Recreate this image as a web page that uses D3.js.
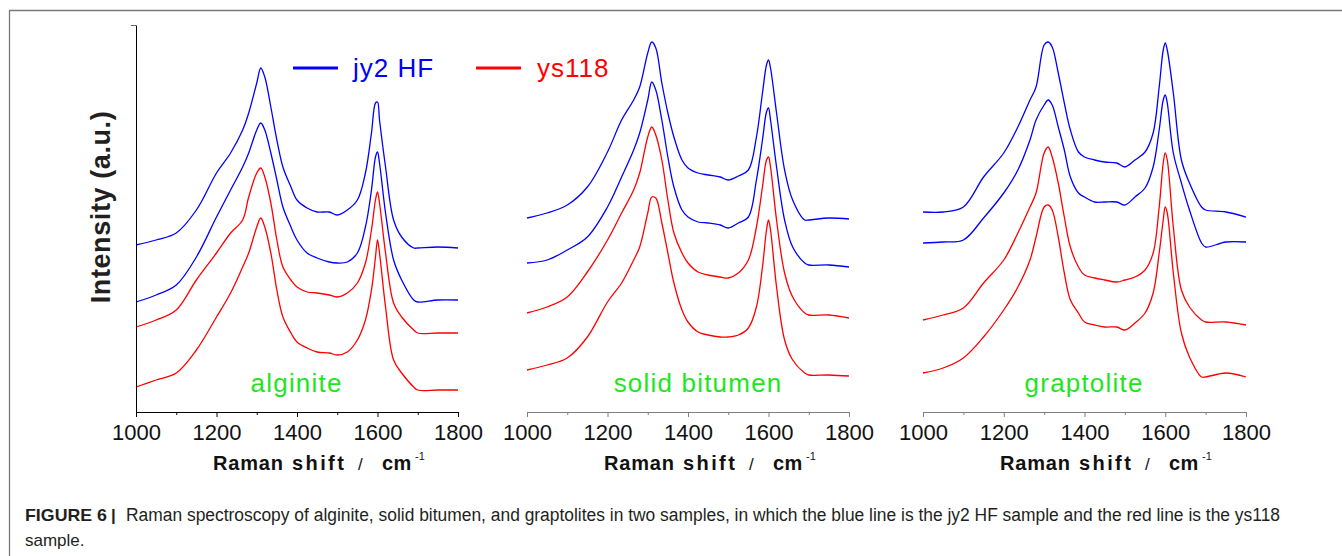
<!DOCTYPE html>
<html>
<head>
<meta charset="utf-8">
<script src="https://cdn.jsdelivr.net/npm/d3@7"></script>
<style>
  html, body { margin: 0; padding: 0; background: #fff; }
  svg { display: block; font-family: "Liberation Sans", Arial, sans-serif; }
</style>
</head>
<body>
<div id="chart"></div>
<script>
// Raman shift grid (cm-1) the spectra were read at
var ramanShift = [1000, 1050, 1100, 1150, 1200, 1235, 1265, 1280, 1300, 1310,
  1320, 1335, 1350, 1365, 1385, 1400, 1425, 1450, 1480, 1500,
  1525, 1550, 1570, 1585, 1595, 1600, 1605, 1620, 1640, 1660,
  1690, 1700, 1750, 1800];

// intensities (a.u., stacked offsets included), two spectra per sample
var alginiteJy2A = [167,172,179,202,239,259,282,299,329,344,335,305,272,245,225,212,204,200,200,197,202,212,239,279,309,310,292,245,192,175,164,164,165,164];
var alginiteJy2B = [110,117,127,155,195,222,245,259,282,289,282,259,232,205,185,172,159,154,150,149,150,159,185,222,255,260,249,199,152,132,112,110,112,112];
var alginiteYs118A = [85,92,102,132,159,179,192,215,239,244,235,209,172,145,132,125,120,119,117,115,119,129,149,182,212,220,209,159,109,95,82,79,79,79];
var alginiteYs118B = [25,32,39,62,95,119,145,159,185,194,185,159,122,95,79,70,64,60,59,57,60,72,92,122,155,172,159,105,52,39,25,22,22,22];

var bitumenJy2A = [194,199,207,225,260,292,312,325,359,370,364,329,299,275,252,244,239,237,235,232,236,242,275,319,347,352,344,299,242,212,192,192,194,193];
var bitumenJy2B = [149,152,162,175,205,235,262,279,312,330,322,292,255,225,202,195,190,189,187,184,189,195,232,272,300,304,292,245,192,165,149,147,147,145];
var bitumenYs118A = [99,105,115,140,172,199,222,239,275,285,277,252,212,179,159,149,140,137,135,134,139,152,185,225,252,255,245,192,139,115,99,97,97,94];
var bitumenYs118B = [42,47,54,75,110,129,152,165,199,215,214,189,159,129,102,90,80,77,75,75,77,84,105,145,182,192,182,125,72,52,39,37,37,36];

var graptoliteJy2A = [200,200,205,235,259,285,312,325,367,370,365,339,309,282,260,255,252,250,249,245,252,260,279,325,362,369,362,319,252,229,205,202,200,195];
var graptoliteJy2B = [169,170,172,194,219,242,272,292,307,312,307,285,262,235,219,215,210,210,210,207,215,224,245,282,312,317,309,259,229,202,169,165,170,170];
var graptoliteYs118A = [92,97,104,129,152,179,205,219,259,265,255,229,195,165,145,137,134,132,130,132,135,142,159,205,249,259,252,185,122,105,92,90,90,87];
var graptoliteYs118B = [39,44,54,75,102,125,152,175,205,207,202,175,139,112,99,90,87,85,85,82,89,99,119,159,192,205,199,139,79,55,35,35,39,35];

var panelNames = ["alginite", "solid bitumen", "graptolite"];
var seriesNames = ["jy2 HF", "ys118"];
var majorTicks = [1000, 1200, 1400, 1600, 1800];
var minorTicks = [1100, 1300, 1500, 1700];

var width = 1342, height = 556;
var axisY = 412, plotTop = 25;
var colors = { "jy2 HF": "#0000ff", "ys118": "#ff0000" };
var labelGreen = "#1ee61e";

// panel geometry
var panels = [
  { name: panelNames[0], x0: 136, x1: 458, labelAt: 1399, axisColor: "#000",
    spectra: [[alginiteJy2A, "jy2 HF"], [alginiteJy2B, "jy2 HF"], [alginiteYs118A, "ys118"], [alginiteYs118B, "ys118"]] },
  { name: panelNames[1], x0: 527, x1: 849, labelAt: 1425, axisColor: "#7f7f7f",
    spectra: [[bitumenJy2A, "jy2 HF"], [bitumenJy2B, "jy2 HF"], [bitumenYs118A, "ys118"], [bitumenYs118B, "ys118"]] },
  { name: panelNames[2], x0: 923, x1: 1246, labelAt: 1399, axisColor: "#7f7f7f",
    spectra: [[graptoliteJy2A, "jy2 HF"], [graptoliteJy2B, "jy2 HF"], [graptoliteYs118A, "ys118"], [graptoliteYs118B, "ys118"]] }
];

var svg = d3.select("#chart").append("svg")
  .attr("width", width)
  .attr("height", height);

var y = d3.scaleLinear().domain([0, 387]).range([axisY, plotTop]);

function drawFrame() {
  svg.append("path")
    .attr("d", "M9.5," + height + "V10.5H" + width)
    .attr("fill", "none")
    .attr("stroke", "#7a7a7a")
    .attr("stroke-width", 1.3);
}

function drawPanel(p, i) {
  var x = d3.scaleLinear().domain([1000, 1800]).range([p.x0, p.x1]);
  var g = svg.append("g").attr("class", "panel panel" + i);

  // minor ticks first, then the major ones with labels
  var minor = g.append("g")
    .attr("transform", "translate(0," + axisY + ")")
    .call(d3.axisBottom(x).tickValues(minorTicks).tickSize(3).tickSizeOuter(0).tickFormat(""));
  var major = g.append("g")
    .attr("transform", "translate(0," + axisY + ")")
    .call(d3.axisBottom(x).tickValues(majorTicks).tickSize(5).tickSizeOuter(0).tickPadding(7).tickFormat(d3.format("d")));

  [minor, major].forEach(function (a) {
    a.selectAll("path, line").attr("stroke", p.axisColor);
  });
  major.selectAll("text")
    .attr("fill", "#111")
    .style("font-size", "22px")
    .style("font-family", "'Liberation Sans', Arial, sans-serif");

  // axis title, pieces placed to follow the original spacing
  var title = g.append("text")
    .attr("y", 470)
    .attr("fill", "#111")
    .style("font-size", "20px")
    .style("font-weight", "bold");
  title.append("tspan").attr("x", p.x0 + 77).style("letter-spacing", "0.8px").text("Raman");
  title.append("tspan").attr("x", p.x0 + 156).style("letter-spacing", "2.4px").text("shift");
  title.append("tspan").attr("x", p.x0 + 222).style("font-weight", "normal").style("font-size", "17px").text("/");
  title.append("tspan").attr("x", p.x0 + 246).style("letter-spacing", "0.5px").text("cm");
  title.append("tspan").attr("x", p.x0 + 279).attr("dy", -10)
    .style("font-size", "11px").style("font-weight", "normal").text("-1");

  var line = d3.line()
    .curve(d3.curveCatmullRom.alpha(0.5))
    .x(function (d) { return x(d[0]); })
    .y(function (d) { return y(d[1]); });

  g.selectAll(".spectrum")
    .data(p.spectra)
    .enter()
    .append("path")
    .attr("class", "spectrum")
    .attr("fill", "none")
    .attr("stroke", function (s) { return colors[s[1]]; })
    .attr("stroke-width", 1.3)
    .attr("stroke-linejoin", "round")
    .attr("d", function (s) { return line(d3.zip(ramanShift, s[0])); });

  g.append("text")
    .attr("x", x(p.labelAt))
    .attr("y", 392)
    .attr("text-anchor", "middle")
    .attr("fill", labelGreen)
    .style("font-size", "26px")
    .style("letter-spacing", "1.2px")
    .text(p.name);
}

function drawYAxis() {
  var axis = svg.append("g")
    .attr("transform", "translate(" + panels[0].x0 + ",0)")
    .call(d3.axisLeft(y).tickValues([387]).tickSize(5).tickSizeOuter(0).tickFormat(""));
  axis.select("path").attr("stroke", "#000");
  axis.selectAll("line").attr("stroke", "#666");

  svg.append("text")
    .attr("transform", "translate(110,207) rotate(-90)")
    .attr("text-anchor", "middle")
    .attr("fill", "#231f20")
    .style("font-size", "27px")
    .style("font-weight", "bold")
    .style("letter-spacing", "0.6px")
    .text("Intensity (a.u.)");
}

function drawLegend() {
  var items = [
    { name: seriesNames[0], lx: 293, tx: 353 },
    { name: seriesNames[1], lx: 476, tx: 537 }
  ];
  var lg = svg.append("g").attr("class", "legend");
  items.forEach(function (it) {
    lg.append("line")
      .attr("x1", it.lx).attr("x2", it.lx + 45)
      .attr("y1", 68).attr("y2", 68)
      .attr("stroke", colors[it.name])
      .attr("stroke-width", 3);
    lg.append("text")
      .attr("x", it.tx)
      .attr("y", 77)
      .attr("fill", colors[it.name])
      .style("font-size", "26px")
      .style("letter-spacing", "1px")
      .text(it.name);
  });
}

function drawCaption() {
  var cap = svg.append("g").attr("fill", "#231f20").style("font-size", "17px");
  cap.append("text")
    .attr("x", 25).attr("y", 521)
    .attr("textLength", 82).attr("lengthAdjust", "spacingAndGlyphs")
    .style("font-weight", "bold")
    .text("FIGURE 6");
  cap.append("text")
    .attr("x", 111).attr("y", 521)
    .style("font-weight", "bold")
    .text("|");
  cap.append("text")
    .attr("x", 126).attr("y", 521)
    .attr("textLength", 1154).attr("lengthAdjust", "spacingAndGlyphs")
    .style("font-size", "18px")
    .text("Raman spectroscopy of alginite, solid bitumen, and graptolites in two samples, in which the blue line is the jy2 HF sample and the red line is the ys118");
  cap.append("text")
    .attr("x", 25).attr("y", 546)
    .text("sample.");
}

function render() {
  drawFrame();
  panels.forEach(drawPanel);
  drawYAxis();
  drawLegend();
  drawCaption();
}

render();
</script>
</body>
</html>
